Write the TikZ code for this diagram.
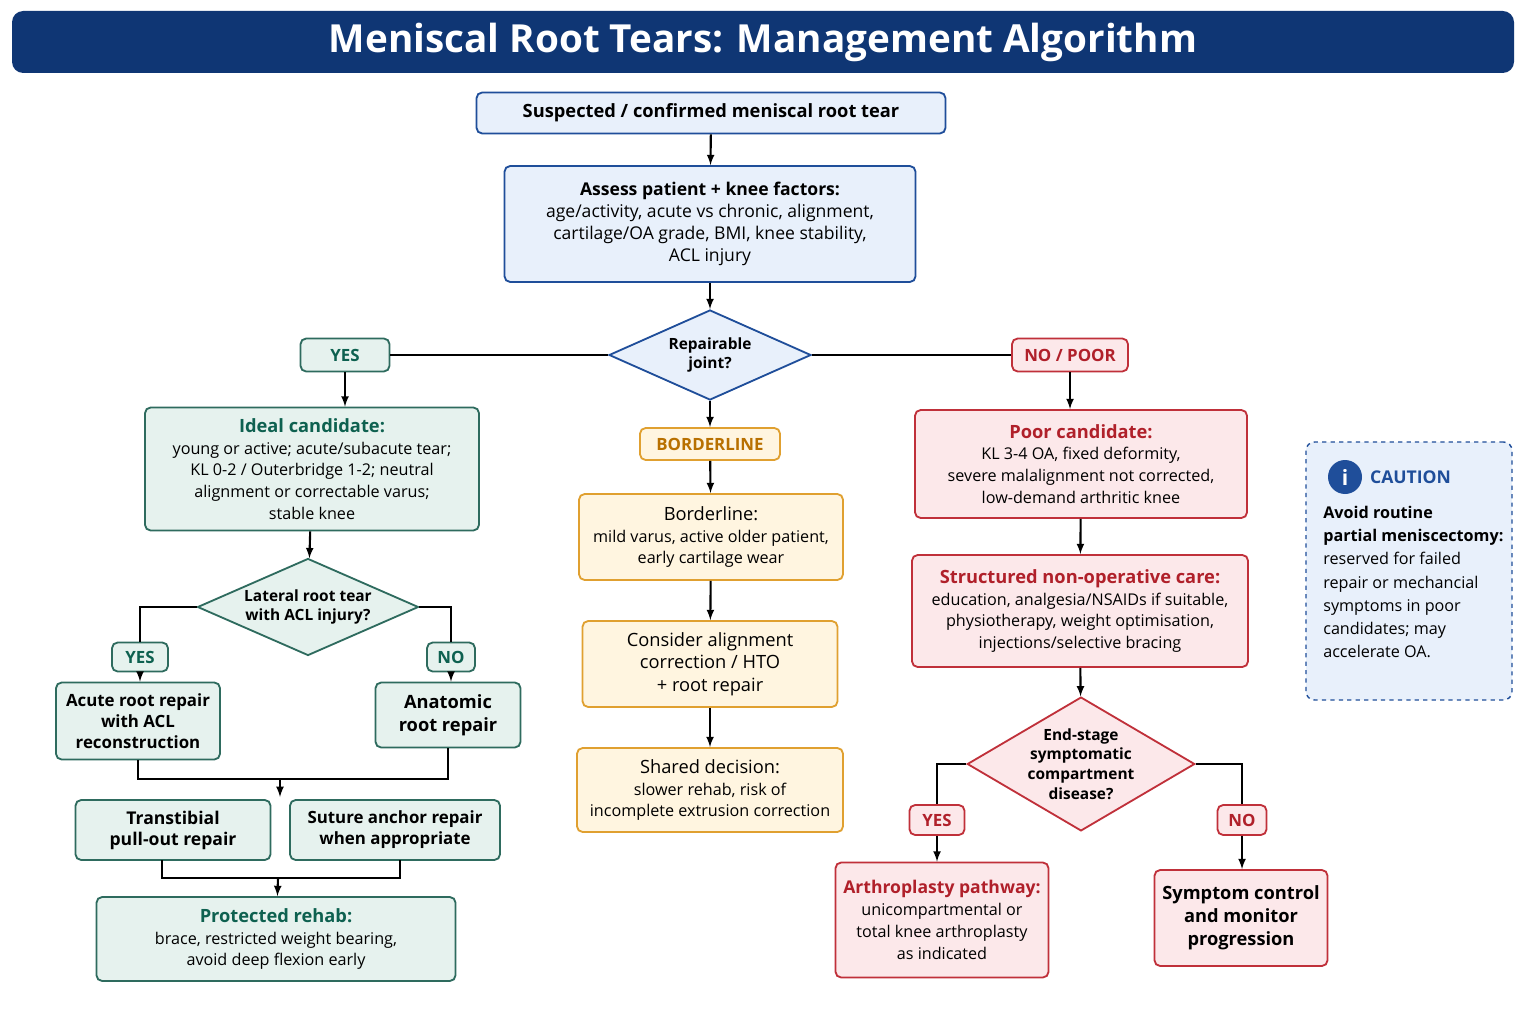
\documentclass[tikz,border=0pt]{standalone}
\usepackage{fontspec}
\setmainfont{Open Sans}
\usetikzlibrary{shapes,arrows,positioning,calc,shapes.geometric}
\definecolor{navy}{HTML}{0F3674}
\definecolor{bluefill}{HTML}{E8F0FB}
\definecolor{bluedraw}{HTML}{1F4E9A}
\definecolor{grdraw}{HTML}{2E6B5E}
\definecolor{grfill}{HTML}{E6F2EE}
\definecolor{grtext}{HTML}{0E6150}
\definecolor{ordraw}{HTML}{E0A030}
\definecolor{orfill}{HTML}{FFF5E0}
\definecolor{ortext}{HTML}{B87000}
\definecolor{rddraw}{HTML}{C0303A}
\definecolor{rdfill}{HTML}{FCE8EA}
\definecolor{rdtext}{HTML}{B0202A}

\begin{document}
\begin{tikzpicture}[x=0.025cm, y=-0.025cm]
  \tikzstyle{bluebox}=[rectangle, draw=bluedraw, fill=bluefill, line width=1.3pt, rounded corners=4pt, align=center, font=\fontsize{12.5}{15.5}\selectfont]
  \tikzstyle{greenbox}=[rectangle, draw=grdraw, fill=grfill, line width=1.3pt, rounded corners=4pt, align=center, font=\fontsize{11.5}{15.5}\selectfont]
  \tikzstyle{orangebox}=[greenbox, draw=ordraw, fill=orfill]
  \tikzstyle{redbox}=[greenbox, draw=rddraw, fill=rdfill]
  \tikzstyle{greentag}=[greenbox, font=\fontsize{12}{14}\selectfont\bfseries, text=grtext, inner sep=2pt]
  \tikzstyle{orangetag}=[orangebox, font=\fontsize{12}{14}\selectfont\bfseries, text=ortext, inner sep=2pt]
  \tikzstyle{redtag}=[redbox, font=\fontsize{12}{14}\selectfont\bfseries, text=rdtext, inner sep=2pt]
  \tikzstyle{decision}=[diamond, aspect=2.1, inner sep=0pt, align=center, line width=1.3pt, font=\fontsize{11}{14}\selectfont\bfseries]
  \tikzstyle{flow}=[-latex, line width=1.5pt]
  \tikzstyle{link}=[line width=1.5pt]

  \useasboundingbox[fill=white] (0,0) rectangle (1536,1024);

  % Titel
  \node[fill=navy, rounded corners=8pt, minimum width=1502*0.025cm, minimum height=62*0.025cm, text=white, font=\fontsize{27.5}{33}\selectfont\bfseries] (title) at (763,42) {Meniscal Root Tears: Management Algorithm};

  % Hauptpfad
  \node[bluebox, font=\fontsize{13}{16}\selectfont\bfseries, minimum width=469*0.025cm, minimum height=41*0.025cm] (start) at (711,113) {Suspected / confirmed meniscal root tear};
  \node[bluebox, minimum width=411*0.025cm, minimum height=116*0.025cm] (assess) at (710,224) {\textbf{Assess patient + knee factors:}\\age/activity, acute vs chronic, alignment,\\cartilage/OA grade, BMI, knee stability,\\ACL injury};
  \node[decision, draw=bluedraw, fill=bluefill, minimum width=202*0.025cm, minimum height=90*0.025cm] (joint) at (710,355) {Repairable\\joint?};

  \node[greentag, minimum width=89*0.025cm, minimum height=33*0.025cm] (yes) at (345,355) {YES};
  \node[redtag, minimum width=116*0.025cm, minimum height=33*0.025cm] (nopoor) at (1070,355) {NO / POOR};
  \node[orangetag, minimum width=140*0.025cm, minimum height=32*0.025cm] (bline) at (710,444) {BORDERLINE};

  % Linker Zweig
  \node[greenbox, minimum width=334*0.025cm, minimum height=123*0.025cm] (ideal) at (312,469) {{\fontsize{13}{16}\selectfont\bfseries\color{grtext}Ideal candidate:}\\young or active; acute/subacute tear;\\KL 0-2 / Outerbridge 1-2; neutral\\alignment or correctable varus;\\stable knee};
  \node[decision, draw=grdraw, fill=grfill, minimum width=221*0.025cm, minimum height=97*0.025cm] (lateral) at (308,607) {Lateral root tear\\with ACL injury?};
  \node[greentag, minimum width=56*0.025cm, minimum height=29*0.025cm] (lyes) at (140,657) {YES};
  \node[greentag, minimum width=48*0.025cm, minimum height=29*0.025cm] (lno) at (451,657) {NO};
  \node[greenbox, font=\fontsize{12}{15}\selectfont\bfseries, minimum width=164*0.025cm, minimum height=77*0.025cm] (acute) at (138,721) {Acute root repair\\with ACL\\reconstruction};
  \node[greenbox, font=\fontsize{13}{16}\selectfont\bfseries, minimum width=145*0.025cm, minimum height=65*0.025cm] (anat) at (448,715) {Anatomic\\root repair};
  \node[greenbox, font=\fontsize{12.5}{15}\selectfont\bfseries, minimum width=195*0.025cm, minimum height=60*0.025cm] (transtib) at (173,830) {Transtibial\\pull-out repair};
  \node[greenbox, font=\fontsize{12}{15}\selectfont\bfseries, minimum width=210*0.025cm, minimum height=60*0.025cm] (suture) at (395,830) {Suture anchor repair\\when appropriate};
  \node[greenbox, minimum width=359*0.025cm, minimum height=84*0.025cm] (rehab) at (276,939) {{\fontsize{13}{16}\selectfont\bfseries\color{grtext}Protected rehab:}\\brace, restricted weight bearing,\\avoid deep flexion early};

  % Mittlerer Zweig
  \node[orangebox, minimum width=264*0.025cm, minimum height=86*0.025cm] (border) at (711,537) {{\fontsize{13}{16}\selectfont Borderline:}\\mild varus, active older patient,\\early cartilage wear};
  \node[orangebox, font=\fontsize{13}{16}\selectfont, minimum width=255*0.025cm, minimum height=86*0.025cm] (hto) at (710,664) {Consider alignment\\correction / HTO\\+ root repair};
  \node[orangebox, minimum width=266*0.025cm, minimum height=84*0.025cm] (shared) at (710,790) {{\fontsize{13}{16}\selectfont Shared decision:}\\slower rehab, risk of\\incomplete extrusion correction};

  % Rechter Zweig
  \node[redbox, minimum width=332*0.025cm, minimum height=108*0.025cm] (poor) at (1081,464) {{\fontsize{13}{16}\selectfont\bfseries\color{rdtext}Poor candidate:}\\KL 3-4 OA, fixed deformity,\\severe malalignment not corrected,\\low-demand arthritic knee};
  \node[redbox, minimum width=336*0.025cm, minimum height=112*0.025cm] (nonop) at (1080,611) {{\fontsize{13}{16}\selectfont\bfseries\color{rdtext}Structured non-operative care:}\\education, analgesia/NSAIDs if suitable,\\physiotherapy, weight optimisation,\\injections/selective bracing};
  \node[decision, draw=rddraw, fill=rdfill, aspect=1.7, minimum width=223*0.025cm, minimum height=132*0.025cm] (endstage) at (1081,764) {End-stage\\symptomatic\\compartment\\disease?};
  \node[redtag, minimum width=55*0.025cm, minimum height=30*0.025cm] (ryes) at (937,820) {YES};
  \node[redtag, minimum width=49*0.025cm, minimum height=30*0.025cm] (rno) at (1242,820) {NO};
  \node[redbox, minimum width=213*0.025cm, minimum height=115*0.025cm] (arthro) at (942,920) {{\fontsize{12.5}{16}\selectfont\bfseries\color{rdtext}Arthroplasty pathway:}\\unicompartmental or\\total knee arthroplasty\\as indicated};
  \node[redbox, font=\fontsize{13}{16.5}\selectfont\bfseries, minimum width=173*0.025cm, minimum height=96*0.025cm] (symptom) at (1241,918) {Symptom control\\and monitor\\progression};

  % Hinweis
  \node[draw=bluedraw, fill=bluefill, dashed, line width=1pt, rounded corners=6pt, minimum width=206*0.025cm, minimum height=258*0.025cm] (caution) at (1409,571) {};
  \node[circle, fill=bluedraw, text=white, inner sep=0pt, minimum size=34*0.025cm, font=\fontsize{15}{15}\selectfont\bfseries] (info) at (1345,477) {i};
  \node[right=2pt of info, text=bluedraw, font=\fontsize{12.5}{15}\selectfont\bfseries] (cautiontitle) {CAUTION};
  \node[anchor=north west, align=left, font=\fontsize{11.5}{16.5}\selectfont, inner sep=0pt] (cautiontext) at (1323,506) {\textbf{Avoid routine}\\\textbf{partial meniscectomy:}\\reserved for failed\\repair or mechancial\\symptoms in poor\\candidates; may\\accelerate OA.};

  % Verbindungen
  \draw[flow] (start) -- (assess);
  \draw[flow] (assess) -- (joint);
  \draw[link] (joint) -- (yes);
  \draw[link] (joint) -- (nopoor);
  \draw[flow] (yes) -- (yes|-ideal.north);
  \draw[flow] (nopoor) -- (nopoor|-poor.north);
  \draw[flow] (joint) -- (bline);
  \draw[flow] (bline) -- (border);
  \draw[flow] (border) -- (hto);
  \draw[flow] (hto) -- (shared);

  \draw[flow] (ideal) -- (lateral);
  \draw[link] (lateral.west) -| (lyes);
  \draw[link] (lateral.east) -| (lno);
  \draw[flow] (lyes) -- (lyes|-acute.north);
  \draw[flow] (lno) -- (lno|-anat.north);
  \coordinate (merge1) at (280,779);
  \draw[link] (acute) |- (merge1);
  \draw[link] (anat.south) |- (merge1);
  \draw[flow] (merge1) -- (280,797);
  \coordinate (merge2) at (278,878);
  \draw[link] (162,860) |- (merge2);
  \draw[link] (400,860) |- (merge2);
  \draw[flow] (merge2) -- (rehab);

  \draw[flow] (poor) -- (nonop);
  \draw[flow] (nonop) -- (endstage);
  \draw[link] (endstage.west) -| (ryes);
  \draw[link] (endstage.east) -| (rno);
  \draw[flow] (ryes) -- (ryes|-arthro.north);
  \draw[flow] (rno) -- (rno|-symptom.north);
\end{tikzpicture}
\end{document}
